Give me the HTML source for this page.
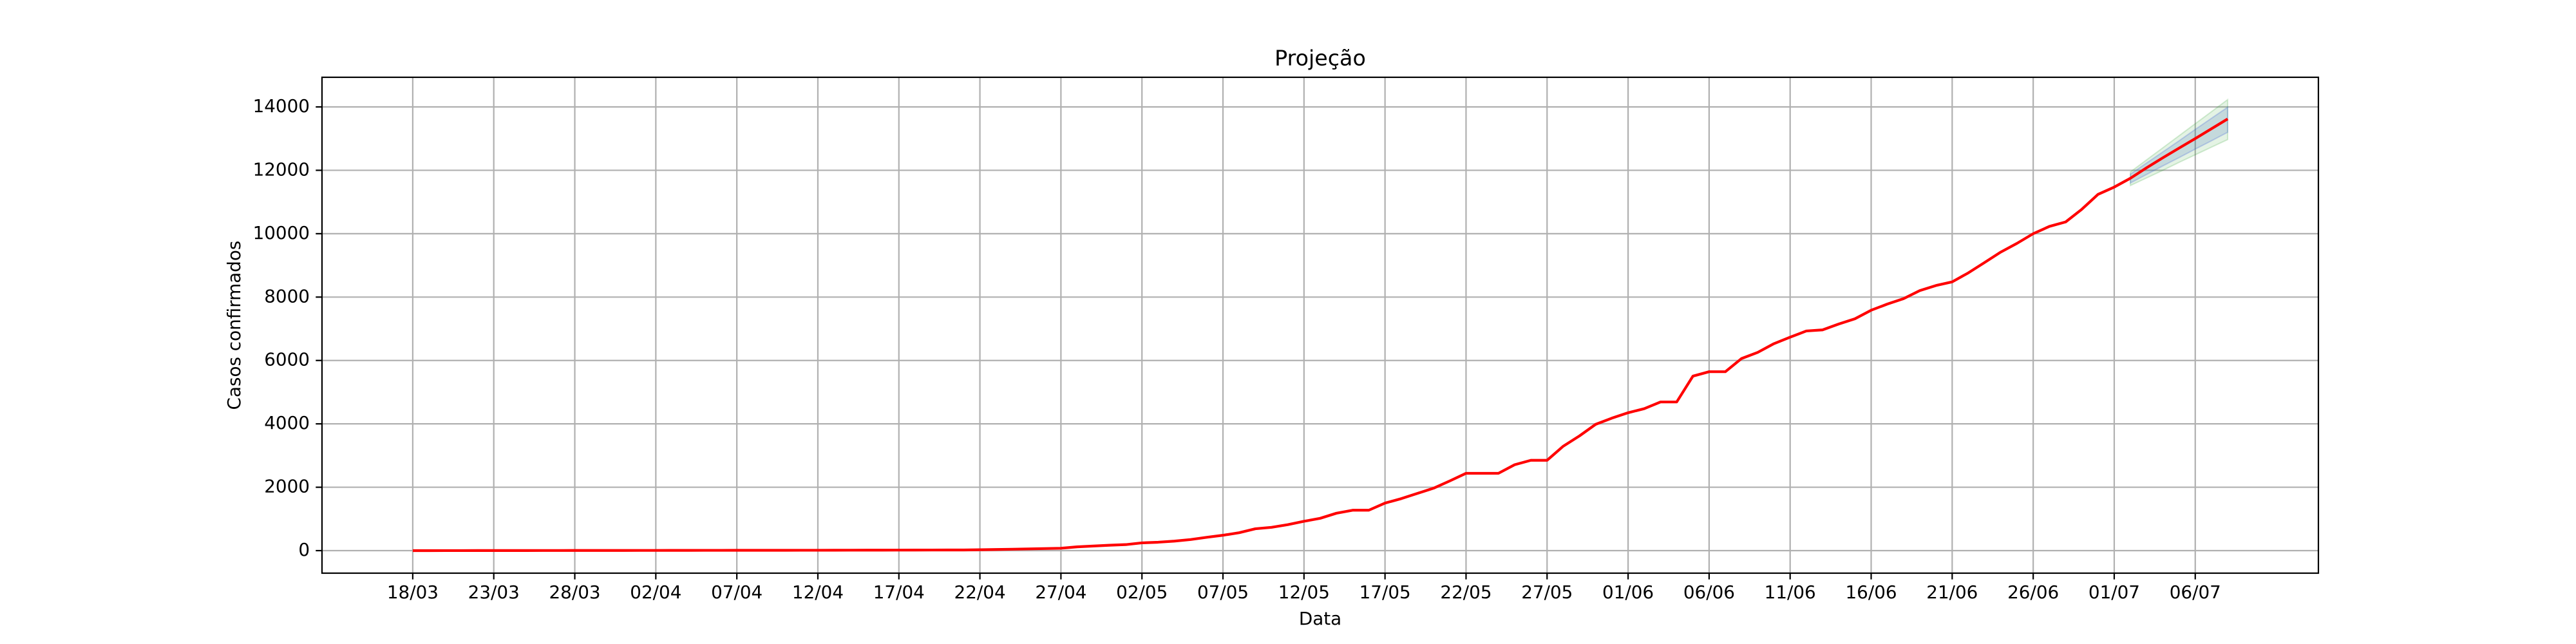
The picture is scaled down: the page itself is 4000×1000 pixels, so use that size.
<!DOCTYPE html>
<html><head><meta charset="utf-8"><title>Projeção</title>
<style>
html,body{margin:0;padding:0;background:#fff;}
svg{display:block;}
text{font-family:"DejaVu Sans","Liberation Sans",sans-serif;fill:#000;}
</style></head>
<body>
<svg id="chart" width="4000" height="1000" viewBox="0 0 4000 1000" xmlns="http://www.w3.org/2000/svg">
<rect x="0" y="0" width="4000" height="1000" fill="#fff"/>
<text x="2050" y="92" font-size="33.3" text-anchor="middle" dominant-baseline="middle">Projeção</text>
<text x="2050" y="962" font-size="27.8" text-anchor="middle" dominant-baseline="middle">Data</text>
<text x="365" y="505" font-size="27.8" text-anchor="middle" dominant-baseline="middle" transform="rotate(-90 365 505)">Casos confirmados</text>
<g id="grid"></g>
<g id="bands"></g>
<g id="lines"></g>
<g id="ticks"></g>
<rect x="500" y="120" width="3100" height="770" fill="none" stroke="#000" stroke-width="2.2"/>
</svg>
<script>
// Data (day index 0 = 18/03)
const cases = [0,0,1,1,2,2,3,3,4,4,5,5,6,6,7,7,8,8,9,9,10,10,11,11,12,12,13,14,15,16,17,18,19,20,21,
28,35,45,55,65,75,120,145,170,190,245,265,300,350,420,485,565,690,735,820,925,1020,1180,1275,1275,
1500,1640,1805,1970,2200,2440,2440,2440,2710,2850,2850,3295,3620,3985,4180,4350,4480,4690,4690,5505,
5645,5645,6060,6255,6530,6735,6930,6965,7150,7315,7585,7780,7950,8205,8365,8480,8765,9090,9420,9695,
10000,10230,10370,10770,11240,11470,11750];
const forecastStart = 106;
const forecast = [11750,12080,12395,12700,13000,13310,13620];
const outerUpper = [11950,12330,12710,13090,13470,13850,14230];
const outerLower = [11520,11760,12000,12250,12490,12730,12970];
const innerUpper = [11880,12230,12580,12930,13290,13640,13990];
const innerLower = [11600,11870,12140,12400,12670,12930,13200];
const xTickLabels = ["18/03","23/03","28/03","02/04","07/04","12/04","17/04","22/04","27/04","02/05","07/05","12/05","17/05","22/05","27/05","01/06","06/06","11/06","16/06","21/06","26/06","01/07","06/07"];
const yTicks = [0,2000,4000,6000,8000,10000,12000,14000];

const NS="http://www.w3.org/2000/svg";
const L=500,R=3600,T=120,B=890;
const xMin=-5.6,xMax=117.6,yMin=-711,yMax=14935;
function xs(d){return L+(d-xMin)/(xMax-xMin)*(R-L);}
function ys(v){return B-(v-yMin)/(yMax-yMin)*(B-T);}
function mk(tag,attrs,parent){const e=document.createElementNS(NS,tag);for(const k in attrs)e.setAttribute(k,attrs[k]);parent.appendChild(e);return e;}
const grid=document.getElementById('grid'),ticks=document.getElementById('ticks'),bands=document.getElementById('bands'),lines=document.getElementById('lines');

xTickLabels.forEach((lab,i)=>{
  const x=xs(i*5);
  const g=mk('line',{x1:x,x2:x,y1:T,y2:B,stroke:'#b0b0b0','stroke-width':2.2},grid);
  
  
  const t=mk('line',{x1:x,x2:x,y1:B,y2:B+9.7,stroke:'#000','stroke-width':2.2},ticks);
  
  
  const tx=mk('text',{x:x,y:921,'font-size':27.8,'text-anchor':'middle','dominant-baseline':'middle'},ticks);
  tx.textContent=lab;
  
  
});
yTicks.forEach(v=>{
  const y=ys(v);
  const g=mk('line',{x1:L,x2:R,y1:y,y2:y,stroke:'#b0b0b0','stroke-width':2.2},grid);
  
  
  const t=mk('line',{x1:L-9.7,x2:L,y1:y,y2:y,stroke:'#000','stroke-width':2.2},ticks);
  
  
  const tx=mk('text',{x:L-19,y:y,'font-size':27.8,'text-anchor':'end','dominant-baseline':'middle'},ticks);
  tx.textContent=String(v);
  
  
});
function band(up,lo,fill,stroke,name){
  let pts=[];
  up.forEach((v,i)=>pts.push(xs(forecastStart+i)+','+ys(v)));
  for(let i=lo.length-1;i>=0;i--)pts.push(xs(forecastStart+i)+','+ys(lo[i]));
  const p=mk('polygon',{points:pts.join(' '),fill:fill,stroke:stroke,'stroke-width':2},bands);
  
  
}
band(outerUpper,outerLower,'rgba(44,160,44,0.13)','rgba(44,160,44,0.2)','outer-confidence-band');
band(innerUpper,innerLower,'rgba(31,80,180,0.16)','rgba(60,90,220,0.25)','inner-confidence-band');

const hist=mk('polyline',{points:cases.map((v,i)=>xs(i)+','+ys(v)).join(' '),fill:'none',stroke:'#ff0000','stroke-width':4.2,'stroke-linejoin':'round'},lines);


const fc=mk('polyline',{points:forecast.map((v,i)=>xs(forecastStart+i)+','+ys(v)).join(' '),fill:'none',stroke:'#ff0000','stroke-width':4.2,'stroke-linejoin':'round'},lines);


</script>
</body></html>
